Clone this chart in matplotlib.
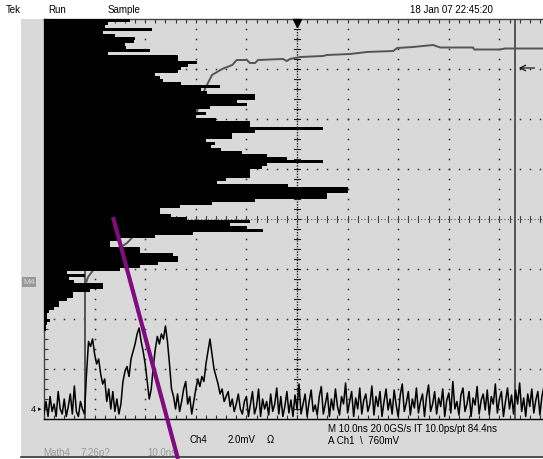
import numpy as np
import matplotlib.pyplot as plt
from matplotlib.patches import Rectangle
from matplotlib.lines import Line2D

plt.rcParams['font.family'] = ['Liberation Sans', 'DejaVu Sans']

W, H = 543, 460

# histogram of the Ch1 edge, one value (div) per 0.06 div row from the top
hist_rows = [
    1.70, 1.26, 1.20, 2.13, 1.16, 1.40, 1.80, 1.78, 1.60, 1.62,
    2.10, 1.26, 2.65, 2.65, 3.02, 2.85, 2.70, 2.65, 2.20, 2.29,
    2.35, 2.70, 3.48, 3.10, 3.22, 4.17, 4.17, 3.82, 4.01, 3.28,
    3.00, 3.20, 3.00, 3.40, 4.07, 4.07, 5.51, 4.17, 3.72, 3.72,
    3.20, 3.38, 3.30, 3.50, 3.91, 4.40, 4.80, 5.51, 4.40, 4.30,
    4.07, 4.07, 4.07, 3.60, 3.42, 4.82, 6.01, 6.01, 5.59, 5.59,
    4.17, 3.32, 2.69, 2.29, 2.29, 2.50, 2.83, 4.07, 3.68, 4.01,
    4.33, 2.94, 2.19, 1.50, 1.30, 1.30, 1.90, 1.90, 2.55, 2.65,
    2.65, 2.25, 1.90, 1.50, 0.45, 0.81, 0.50, 0.60, 1.17, 1.17,
    0.90, 0.57, 0.57, 0.45, 0.30, 0.30, 0.20, 0.10, 0.06, 0.06,
    0.12, 0.06, 0.04, 0.04,
]
row_h = 0.06

# Ch1 edge (div)
ch1_x = [0.00, 0.79, 0.87, 1.11, 1.64, 2.09, 2.49, 2.79, 3.02, 3.18,
         3.32, 3.52, 3.72, 3.81, 4.01, 4.07, 4.17, 4.23, 4.72, 4.80,
         4.86, 5.06, 5.51, 5.59, 6.05, 6.38, 6.90, 6.98, 7.29, 7.69,
         7.83, 8.48, 8.50, 9.01, 9.11, 9.31, 10.0]
ch1_y = [2.56, 2.60, 2.84, 3.16, 3.52, 4.00, 4.80, 5.60, 6.14, 6.60,
         6.88, 7.00, 7.08, 7.18, 7.18, 7.12, 7.12, 7.18, 7.20, 7.16,
         7.20, 7.24, 7.26, 7.28, 7.30, 7.34, 7.36, 7.42, 7.44, 7.48,
         7.43, 7.43, 7.39, 7.39, 7.41, 7.41, 7.41]

# Math4 trace (div above bottom), one sample every 0.04 div
math4_step = 0.04
math4_y = [
    0.10, 0.35, 0.05, 0.45, 0.15, 0.30, 0.05, 0.55, 0.20, 0.10,
    0.40, 0.05, 0.25, 0.50, 0.10, 0.66, 0.15, 0.05, 0.35, 0.20,
    0.10, 0.90, 1.55, 1.45, 1.60, 1.30, 1.10, 1.20, 0.90, 0.70,
    0.80, 0.35, 0.60, 0.20, 0.55, 0.15, 0.40, 0.10, 0.30, 0.75,
    0.95, 1.05, 0.85, 1.20, 1.35, 1.50, 1.70, 1.82, 1.55, 1.35,
    1.10, 0.75, 0.40, 0.60, 1.05, 1.40, 1.65, 1.50, 1.70, 1.60,
    1.86, 1.55, 1.10, 0.60, 0.45, 0.20, 0.50, 0.15, 0.35, 0.60,
    0.75, 0.30, 0.45, 0.10, 0.35, 0.60, 0.80, 0.65, 0.85, 0.75,
    1.10, 1.35, 1.60, 1.30, 1.00, 0.85, 0.70, 0.50, 0.60, 0.35,
    0.45, 0.55, 0.25, 0.40, 0.15, 0.30, 0.50, 0.20, 0.10, 0.35,
    0.45, 0.05, 0.30, 0.55, 0.10, 0.25, 0.60, 0.05, 0.40, 0.20,
    0.35, 0.08, 0.50, 0.15, 0.30, 0.62, 0.10, 0.45, 0.05, 0.25,
    0.55, 0.12, 0.38, 0.05, 0.48, 0.20, 0.70, 0.10, 0.30, 0.50,
    0.05, 0.35, 0.58, 0.15, 0.28, 0.08, 0.45, 0.65, 0.10, 0.30,
    0.52, 0.05, 0.40, 0.18, 0.60, 0.25, 0.08, 0.45, 0.30, 0.72,
    0.12, 0.35, 0.55, 0.05, 0.42, 0.20, 0.62, 0.10, 0.38, 0.50,
    0.15, 0.30, 0.66, 0.08, 0.45, 0.25, 0.55, 0.05, 0.35, 0.60,
    0.18, 0.40, 0.10, 0.58, 0.28, 0.05, 0.48, 0.70, 0.15, 0.32,
    0.55, 0.08, 0.40, 0.22, 0.62, 0.12, 0.35, 0.50, 0.05, 0.45,
    0.68, 0.15, 0.30, 0.55, 0.10, 0.42, 0.25, 0.60, 0.05, 0.38,
    0.52, 0.12, 0.75, 0.20, 0.35, 0.08, 0.48, 0.62, 0.15, 0.30,
    0.55, 0.05, 0.42, 0.28, 0.65, 0.10, 0.38, 0.50, 0.18, 0.58,
    0.08, 0.45, 0.30, 0.70, 0.12, 0.40, 0.55, 0.05, 0.35, 0.62,
    0.20, 0.48, 0.10, 0.58, 0.30, 0.72, 0.15, 0.42, 0.05, 0.50,
    0.25, 0.60, 0.12, 0.38, 0.55, 0.08, 0.45, 0.65, 0.18, 0.35,
]

cursors = [0.81, 9.31]
trig_level = 7.02

# hand-drawn marker line, figure pixels
pen_start = (113, 218)
pen_end = (178, 460)

fig = plt.figure(figsize=(W / 100, H / 100), dpi=100)
fig.patch.set_facecolor('white')

# gray screen area + bottom edge
fig.add_artist(Rectangle((21 / W, 2 / H), 522 / W, 438 / H, transform=fig.transFigure,
                         facecolor='#d9d9d9', edgecolor='none', zorder=-5))
fig.add_artist(Line2D([21 / W, 1], [2 / H, 2 / H], color='#333333', lw=1.2))

ax = fig.add_axes([44 / W, 40 / H, 506 / W, 400 / H])
ax.set_facecolor('none')
ax.set_xlim(0, 10)
ax.set_ylim(0, 8)
for s in ax.spines.values():
    s.set_color('#444444')
    s.set_linewidth(1.0)
ax.spines['bottom'].set_color('black')
ax.set_xticks(np.arange(0, 10.01, 0.2))
ax.set_yticks(np.arange(0, 8.01, 0.2))
ax.tick_params(direction='in', length=3, width=0.8, color='#333333',
               labelbottom=False, labelleft=False, top=True, right=True)

# graticule dots
fine = np.arange(0.2, 10.0, 0.2)
for gx in range(1, 10):
    if gx == 5:
        continue
    yy = np.arange(0.2, 8.0, 0.2)
    ax.plot(np.full_like(yy, gx), yy, ls='none', marker='s', ms=1.1,
            mec='none', color='#333333', zorder=1)
for gy in range(1, 8):
    if gy == 4:
        continue
    ax.plot(fine, np.full_like(fine, gy), ls='none', marker='s', ms=1.1,
            mec='none', color='#333333', zorder=1)

# center cross with minor ticks
ax.plot([5, 5], [0, 8], color='#222222', lw=1.0, ls=(0, (1, 1)), zorder=1)
ax.plot([0, 10], [4, 4], color='#555555', lw=0.8, ls=(0, (1, 2)), zorder=1)
for yy in np.arange(0.2, 8.0, 0.2):
    ax.plot([4.94, 5.06], [yy, yy], color='#222222', lw=0.8, zorder=1)
for xx in np.arange(0.2, 10.0, 0.2):
    ax.plot([xx, xx], [3.94, 4.06], color='#444444', lw=0.8, zorder=1)

# cursors
for c in cursors:
    ax.axvline(c, color='#555555', lw=1.4, zorder=2)

# Ch1 edge
ax.plot(ch1_x, ch1_y, color='#555555', lw=1.4, zorder=2.5)

# histogram
n = len(hist_rows)
ybot = 8 - row_h * (np.arange(n) + 1)
ax.barh(ybot, hist_rows, height=row_h, left=0, align='edge',
        color='black', linewidth=0, zorder=3)

# Math4 trace
mx = np.arange(len(math4_y)) * math4_step
ax.plot(mx, math4_y, color='black', lw=1.1, zorder=4)

# trigger position and level markers
ax.plot(5, 7.93, marker='v', ms=6, color='black', clip_on=False, zorder=6)
ax.annotate('', xy=(9.33, trig_level), xytext=(9.75, trig_level),
            arrowprops=dict(arrowstyle='->', color='black', lw=0.8), zorder=6)


def ftext(x, y, s, **kw):
    kw.setdefault('fontsize', 7)
    kw.setdefault('va', 'center')
    fig.text(x / W, 1 - y / H, s, **kw)


ftext(6, 10, 'Tek')
ftext(48, 10, 'Run')
ftext(108, 10, 'Sample')
ftext(410, 10, '18 Jan 07 22:45:20')

ftext(23, 283, 'M4', color='#dddddd', fontsize=6,
      bbox=dict(boxstyle='square,pad=0.15', fc='#999999', ec='none'))
ftext(31, 410, '4', fontsize=6.5)
ftext(38, 410, '\u25b8', fontsize=5)

ftext(328, 429, 'M 10.0ns 20.0GS/s IT 10.0ps/pt 84.4ns')
ftext(328, 441, 'A Ch1  \\  760mV')
ftext(190, 440, 'Ch4')
ftext(228, 440, '2.0mV')
ftext(267, 440, '\u03a9')
ftext(43, 453, 'Math4', color='#999999')
ftext(80, 453, '7.26p?', color='#999999')
ftext(147, 453, '10.0ns', color='#999999')

fig.add_artist(Line2D([pen_start[0] / W, pen_end[0] / W],
                      [1 - pen_start[1] / H, 1 - pen_end[1] / H],
                      color='#800c80', lw=3, solid_capstyle='butt', zorder=10))

fig.savefig('out.png', dpi=100)
